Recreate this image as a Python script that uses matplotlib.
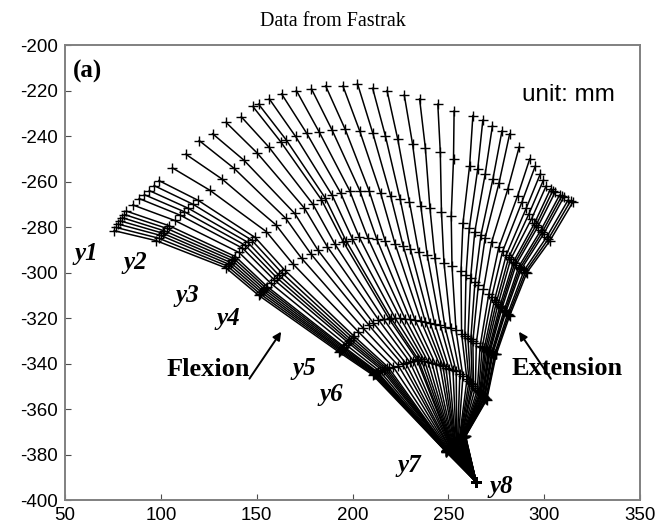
import matplotlib
matplotlib.use("Agg")
import matplotlib.pyplot as plt

plt.rcParams["axes.unicode_minus"] = False

# ---- data: sensor trajectories (one value per recorded frame) ----
y1_x = [75.6, 76.7, 77.7, 78.8, 79.9, 81.0, 82.0, 85.4, 88.7, 91.4, 94.0, 96.5, 99.0, 106.0, 113.0, 120.0, 127.0, 134.0, 142.0, 148.0, 151.0, 156.6, 163.0, 170.7, 178.6, 186.0, 195.0, 202.6, 210.5, 218.0, 227.0, 235.0, 244.5, 253.0, 262.8, 268.0, 273.0, 278.0, 282.0, 287.0, 292.5, 295.3, 298.0, 299.6, 301.0, 303.3, 304.5, 305.7, 308.0, 309.1, 310.2, 312.6, 313.8, 315.0]
y1_y = [-281.6, -280.2, -278.7, -277.3, -275.9, -274.5, -273.0, -270.3, -267.5, -265.8, -264.0, -261.8, -259.6, -254.0, -248.0, -242.0, -239.0, -234.0, -231.6, -227.0, -226.0, -223.7, -221.5, -220.0, -219.3, -218.0, -218.0, -217.0, -219.0, -220.0, -222.0, -223.7, -226.0, -229.0, -231.0, -233.0, -235.5, -237.7, -239.0, -244.7, -250.0, -253.3, -256.6, -259.4, -262.0, -263.3, -264.0, -264.7, -266.0, -266.5, -266.9, -268.0, -268.5, -269.0]

y2_x = [97.6, 98.8, 99.9, 100.9, 101.9, 103.1, 104.2, 107.2, 110.1, 112.3, 114.4, 117.0, 119.5, 125.5, 131.9, 138.2, 143.3, 150.3, 156.3, 162.6, 165.4, 170.3, 176.1, 182.6, 189.4, 196.2, 203.8, 210.6, 217.1, 223.6, 231.3, 238.0, 245.8, 252.7, 261.1, 265.3, 269.2, 273.2, 276.4, 281.0, 286.1, 288.4, 290.7, 292.1, 293.4, 294.9, 295.8, 296.6, 298.2, 299.0, 299.8, 301.3, 302.2, 303.0]
y2_y = [-286.0, -284.9, -283.7, -282.7, -281.7, -280.6, -279.4, -277.1, -274.8, -273.3, -271.8, -270.1, -268.3, -263.8, -258.9, -254.2, -250.6, -247.5, -244.8, -242.6, -241.7, -240.2, -238.8, -238.2, -237.5, -237.1, -237.9, -238.8, -239.8, -241.4, -243.4, -245.2, -247.1, -249.9, -253.0, -254.7, -256.8, -259.1, -260.8, -263.4, -266.4, -269.0, -271.6, -274.1, -276.4, -278.4, -279.2, -280.0, -281.5, -282.2, -282.9, -284.4, -285.2, -286.0]

y3_x = [134.0, 134.8, 135.6, 136.4, 137.2, 138.1, 138.9, 140.8, 142.6, 144.0, 145.3, 147.3, 149.2, 155.0, 160.0, 165.2, 169.8, 174.9, 179.2, 183.8, 185.8, 189.4, 193.8, 198.5, 203.8, 208.7, 214.7, 219.9, 224.8, 229.7, 235.6, 240.4, 246.4, 251.5, 257.6, 260.9, 263.8, 267.0, 269.2, 272.6, 276.3, 278.3, 280.2, 281.5, 282.5, 283.9, 284.6, 285.3, 286.7, 287.4, 288.1, 289.5, 290.3, 291.0]
y3_y = [-298.0, -297.2, -296.4, -295.6, -294.7, -293.9, -293.0, -291.2, -289.3, -288.0, -286.7, -285.7, -284.6, -282.0, -279.0, -276.2, -274.0, -271.7, -269.8, -268.0, -267.3, -266.1, -265.0, -264.0, -264.0, -264.2, -265.2, -266.4, -267.6, -269.0, -270.7, -271.8, -273.3, -275.1, -278.4, -280.6, -282.0, -283.5, -284.7, -286.6, -289.0, -290.7, -292.3, -293.4, -294.2, -295.4, -296.0, -296.6, -297.5, -298.0, -298.4, -299.1, -299.6, -300.0]

y4_x = [151.0, 151.8, 152.5, 153.3, 154.0, 154.8, 155.5, 157.3, 159.1, 160.4, 161.6, 163.1, 164.6, 168.8, 173.5, 178.2, 182.0, 186.9, 190.9, 195.1, 196.6, 199.9, 203.6, 208.1, 212.7, 217.1, 222.2, 226.5, 230.2, 234.5, 239.0, 243.0, 247.7, 251.9, 256.6, 259.2, 261.6, 263.9, 265.7, 268.3, 271.1, 272.6, 274.1, 275.1, 276.0, 276.9, 277.5, 278.0, 279.1, 279.6, 280.0, 281.0, 281.5, 282.0]
y4_y = [-310.0, -309.4, -308.7, -308.1, -307.4, -306.8, -306.2, -304.7, -303.2, -302.2, -301.2, -300.1, -298.9, -296.1, -293.8, -291.7, -290.2, -288.7, -287.6, -286.4, -286.0, -285.1, -284.6, -285.0, -285.4, -286.2, -287.4, -288.5, -289.6, -290.9, -292.4, -293.8, -295.6, -297.2, -299.5, -301.0, -302.4, -304.1, -305.3, -307.3, -309.5, -310.8, -312.0, -312.9, -313.7, -314.6, -315.1, -315.6, -316.5, -316.9, -317.3, -318.1, -318.6, -319.0]

y5_x = [193.0, 193.5, 193.9, 194.3, 194.7, 195.2, 195.6, 196.7, 197.7, 198.4, 199.1, 200.0, 200.8, 203.0, 205.7, 208.6, 210.8, 213.5, 216.2, 219.0, 220.2, 222.3, 224.9, 227.4, 230.0, 232.6, 235.6, 238.0, 240.4, 242.9, 245.8, 248.2, 251.3, 254.0, 256.9, 258.6, 260.2, 261.7, 262.8, 264.6, 266.6, 267.7, 268.7, 269.4, 270.1, 270.9, 271.4, 271.8, 272.6, 273.0, 273.3, 274.2, 274.6, 275.0]
y5_y = [-335.0, -334.6, -334.2, -333.9, -333.5, -333.1, -332.7, -331.8, -330.8, -330.2, -329.5, -328.8, -328.0, -326.0, -324.6, -323.2, -322.1, -320.7, -320.4, -320.3, -320.2, -320.1, -320.0, -320.3, -320.5, -320.8, -321.1, -321.6, -322.0, -322.5, -323.1, -323.8, -324.6, -325.4, -326.9, -327.7, -328.6, -329.4, -330.0, -331.0, -332.2, -332.8, -333.3, -333.6, -333.9, -334.3, -334.5, -334.6, -335.0, -335.2, -335.3, -335.6, -335.8, -336.0]

y6_x = [210.5, 211.0, 211.4, 211.9, 212.4, 212.9, 213.3, 214.4, 215.5, 216.3, 217.0, 217.9, 218.8, 221.2, 223.9, 226.1, 227.8, 229.9, 231.7, 233.6, 234.3, 235.8, 237.5, 239.4, 241.4, 243.3, 245.6, 247.2, 248.7, 250.4, 252.4, 254.1, 256.0, 257.6, 259.7, 260.8, 261.6, 262.5, 263.1, 264.1, 265.1, 265.8, 266.4, 266.8, 267.2, 267.7, 267.9, 268.1, 268.6, 268.8, 269.0, 269.5, 269.8, 270.0]
y6_y = [-345.0, -344.8, -344.6, -344.4, -344.2, -344.1, -343.9, -343.5, -343.0, -342.7, -342.3, -342.1, -341.8, -341.4, -340.9, -340.4, -339.9, -339.4, -338.9, -338.4, -338.2, -338.2, -338.7, -339.2, -339.7, -340.2, -340.8, -341.3, -341.8, -342.3, -342.9, -343.5, -344.6, -345.7, -347.0, -347.7, -348.4, -349.1, -349.7, -350.6, -351.6, -352.2, -352.7, -353.1, -353.5, -353.9, -354.1, -354.3, -354.7, -354.9, -355.1, -355.5, -355.8, -356.0]

y7_x = [248.7, 248.8, 248.8, 248.9, 248.9, 249.0, 249.0, 249.1, 249.2, 249.3, 249.4, 249.5, 249.5, 249.8, 250.0, 250.3, 250.5, 250.8, 251.0, 251.2, 251.4, 251.6, 251.8, 252.0, 252.3, 252.6, 252.9, 253.2, 253.5, 253.7, 254.1, 254.4, 254.8, 255.2, 255.7, 255.9, 256.2, 256.5, 256.7, 257.0, 257.3, 257.6, 257.8, 257.9, 258.0, 258.2, 258.3, 258.3, 258.5, 258.6, 258.7, 258.8, 258.9, 259.0]
y7_y = [-378.7, -378.7, -378.6, -378.6, -378.5, -378.5, -378.5, -378.4, -378.2, -378.1, -378.0, -377.9, -377.8, -377.6, -377.3, -377.0, -376.8, -376.5, -376.3, -376.1, -376.0, -375.9, -375.7, -375.5, -375.3, -375.1, -374.9, -374.7, -374.5, -374.3, -374.1, -373.9, -373.6, -373.4, -373.2, -373.1, -372.9, -372.8, -372.7, -372.6, -372.4, -372.4, -372.3, -372.2, -372.2, -372.1, -372.1, -372.1, -372.0, -372.0, -372.0, -371.9, -371.9, -371.9]

y8_x = 264.5
y8_y = -392.0

sensor_labels = ["y1", "y2", "y3", "y4", "y5", "y6", "y7", "y8"]
label_x = [61.0, 86.5, 114.0, 135.0, 175.0, 189.0, 229.5, 277.5]
label_y = [-291.5, -295.7, -310.0, -320.0, -342.0, -353.5, -385.0, -394.0]

xticks = [50, 100, 150, 200, 250, 300, 350]
yticks = [-400, -380, -360, -340, -320, -300, -280, -260, -240, -220, -200]

# ---- figure ----
fig = plt.figure(figsize=(6.62, 5.29), dpi=100)
ax = fig.add_axes([0.0982, 0.0548, 0.8686, 0.8601])

frames = zip(y1_x, y1_y, y2_x, y2_y, y3_x, y3_y, y4_x, y4_y,
             y5_x, y5_y, y6_x, y6_y, y7_x, y7_y)
for fr in frames:
    fx = list(fr[0::2]) + [y8_x]
    fy = list(fr[1::2]) + [y8_y]
    ax.plot(fx, fy, color="black", lw=1.1, marker="+", ms=6.5, mew=1.0,
            solid_joinstyle="round")

ax.set_xlim(50, 350)
ax.set_ylim(-400, -200)
ax.set_xticks(xticks)
ax.set_yticks(yticks)
ax.tick_params(direction="in", length=4, width=0.8, top=False, right=False,
               labelsize=13.5, pad=5, color="0.3")
for lab in ax.get_xticklabels() + ax.get_yticklabels():
    lab.set_fontfamily("Liberation Sans")
for sp in ax.spines.values():
    sp.set_color("0.5")
    sp.set_linewidth(1.4)

serif = "Liberation Serif"
fig.text(0.503, 0.96, "Data from Fastrak", fontfamily=serif, fontsize=14.5,
         ha="center", va="center")

for lab, lx, ly in zip(sensor_labels, label_x, label_y):
    ax.text(lx, ly, lab, fontfamily=serif, fontsize=18, fontweight="bold",
            fontstyle="italic", ha="center", va="center")

ax.text(54.0, -211.5, "(a)", fontfamily=serif, fontsize=18, fontweight="bold",
        ha="left", va="center")
ax.text(288.5, -222.0, "unit: mm", fontfamily="Liberation Sans", fontsize=17.5,
        ha="left", va="center")
ax.text(124.5, -342.6, "Flexion", fontfamily=serif, fontsize=19, fontweight="bold",
        ha="center", va="center")
ax.text(312.0, -342.3, "Extension", fontfamily=serif, fontsize=19, fontweight="bold",
        ha="center", va="center")
ax.annotate("", xy=(163.6, -325.0), xytext=(145.4, -347.7),
            arrowprops=dict(arrowstyle="-|>", color="black", lw=1.4,
                            mutation_scale=12))
ax.annotate("", xy=(286.0, -325.0), xytext=(304.3, -347.7),
            arrowprops=dict(arrowstyle="-|>", color="black", lw=1.4,
                            mutation_scale=12))

fig.savefig("out.png", dpi=100)
